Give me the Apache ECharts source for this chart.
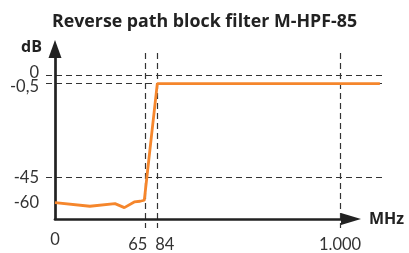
<!DOCTYPE html>
<html><head><meta charset="utf-8">
<script src="https://cdn.jsdelivr.net/npm/echarts@6/dist/echarts.min.js"></script>
<style>html,body{margin:0;padding:0;background:#fff}#c{width:409px;height:253px}</style>
</head><body><div id="c"></div>
<script>
// ---- data ----
const titleText = 'Reverse path block filter M-HPF-85';
const xTickValues = [0, 65, 84, 1000];
const xTickLabels = ['0', '65', '84', '1.000'];
const yTickValues = [0, -0.5, -45, -60];
const yTickLabels = ['0', '-0,5', '-45', '-60'];
const yGridValues = [0, -0.5, -45];
const xGridValues = [65, 84, 1000];
const freqMHz = [0, 25, 43, 49.7, 56.8, 61, 64, 84, 1200];
const attenuationDb = [-60, -62.2, -60.6, -63, -59.6, -59.2, -58.6, -0.5, -0.5];

// ---- schematic (non-linear) axis layout: position of each tick value, px from origin ----
const xTickPx = [0, 90.7, 102.3, 285];
const yTickPx = [144, 135, 40, 14.7];

function makeScale(vals, pxs) {
  const pairs = vals.map((v, i) => [v, pxs[i]]).sort((a, b) => a[0] - b[0]);
  return function (v) {
    let i = 0;
    while (i < pairs.length - 2 && v > pairs[i + 1][0]) i++;
    const [v0, p0] = pairs[i], [v1, p1] = pairs[i + 1];
    return p0 + (v - v0) * (p1 - p0) / (v1 - v0);
  };
}
const sx = makeScale(xTickValues, xTickPx);
const sy = makeScale(yTickValues, yTickPx);
const seriesData = freqMHz.map((f, i) => [sx(f), sy(attenuationDb[i])]);

function labelFor(pos, pxs, labels) {
  let best = 0;
  pxs.forEach((p, i) => { if (Math.abs(p - pos) < Math.abs(pxs[best] - pos)) best = i; });
  return labels[best];
}

const FONT = 'Lato';
const BOLD = 'Open Sans';
const DARK = '#222';
const TXT = '#333';
const dashed = { show: true, lineStyle: { color: '#333', width: 1.2, type: [6, 4] } };

const chart = echarts.init(document.getElementById('c'), null, { renderer: 'canvas' });
chart.setOption({
  animation: false,
  backgroundColor: '#fff',
  title: [
    { text: titleText, left: 'center', top: 13, padding: 0,
      textStyle: { fontFamily: BOLD, fontSize: 17.8, fontWeight: 'bold', color: DARK } },
    { text: 'dB', left: 21, top: 39, padding: 0,
      textStyle: { fontFamily: BOLD, fontSize: 16, fontWeight: 'bold', color: DARK } }
  ],
  grid: [
    { left: 46, right: 25, top: 53, bottom: 23 },   // reference lines, labels, series
    { left: 55, right: 58, top: 49, bottom: 34 }    // axis lines with arrows
  ],
  xAxis: [
    { gridIndex: 0, type: 'value', min: -9, max: 329,
      axisLine: { show: false },
      axisTick: { show: false, customValues: xGridValues.map(sx) },
      splitLine: dashed,
      axisLabel: { customValues: xGridValues.map(sx), margin: 8, hideOverlap: false,
        fontFamily: FONT, fontSize: 16.5, color: TXT,
        formatter: function (v) {
          const t = labelFor(v, xTickPx, xTickLabels);
          if (t === '65') return '{l|' + t + '}';
          if (t === '84') return '{r|' + t + '}';
          return t;
        },
        rich: {
          l: { fontFamily: FONT, fontSize: 16.5, color: TXT, padding: [0, 16, 0, 0] },
          r: { fontFamily: FONT, fontSize: 16.5, color: TXT, padding: [0, 0, 0, 15] }
        } } },
    { gridIndex: 1, type: 'value', min: 0, max: 296,
      axisLine: { show: true, lineStyle: { color: DARK, width: 2.7 },
        symbol: ['none', 'triangle'], symbolSize: [12, 20] },
      axisTick: { show: false },
      splitLine: { show: false },
      axisLabel: { customValues: [sx(0)], margin: 12, fontFamily: FONT, fontSize: 16.5, color: TXT,
        formatter: function (v) { return labelFor(v, xTickPx, xTickLabels); } },
      name: 'MHz', nameLocation: 'end', nameGap: 18,
      nameTextStyle: { fontFamily: BOLD, fontSize: 16, fontWeight: 'bold', color: DARK, padding: [4, 0, 0, 0] } }
  ],
  yAxis: [
    { gridIndex: 0, type: 'value', min: -11, max: 166,
      axisLine: { show: false },
      axisTick: { show: false, customValues: yGridValues.map(sy) },
      splitLine: dashed,
      axisLabel: { customValues: yTickValues.map(sy).filter((p, i) => yTickLabels[i] !== '0'), margin: 7, hideOverlap: false,
        fontFamily: FONT, fontSize: 16.5, color: TXT,
        formatter: function (v) {
          const t = labelFor(v, yTickPx, yTickLabels);
          if (t === '-0,5') return '{d|' + t + '}';
          return t;
        },
        rich: {
          d: { fontFamily: FONT, fontSize: 16.5, color: TXT, padding: [6, 0, 0, 0] }
        } } },
    { gridIndex: 1, type: 'value', min: 0, max: 170,
      axisLine: { show: true, lineStyle: { color: DARK, width: 2.7 },
        symbol: ['none', 'triangle'], symbolSize: [13, 18] },
      axisTick: { show: false },
      splitLine: { show: false },
      axisLabel: { customValues: [sy(0)], margin: 16, hideOverlap: false,
        fontFamily: FONT, fontSize: 16.5, color: TXT,
        formatter: function (v) { return '{u|' + labelFor(v, yTickPx, yTickLabels) + '}'; },
        rich: { u: { fontFamily: FONT, fontSize: 16.5, color: TXT, padding: [0, 0, 4, 0] } } } }
  ],
  series: [{
    type: 'line', xAxisIndex: 0, yAxisIndex: 0,
    data: seriesData, showSymbol: false, clip: false,
    lineStyle: { color: '#F5862C', width: 2.8 },
    z: 5
  }]
});
</script>
</body></html>
